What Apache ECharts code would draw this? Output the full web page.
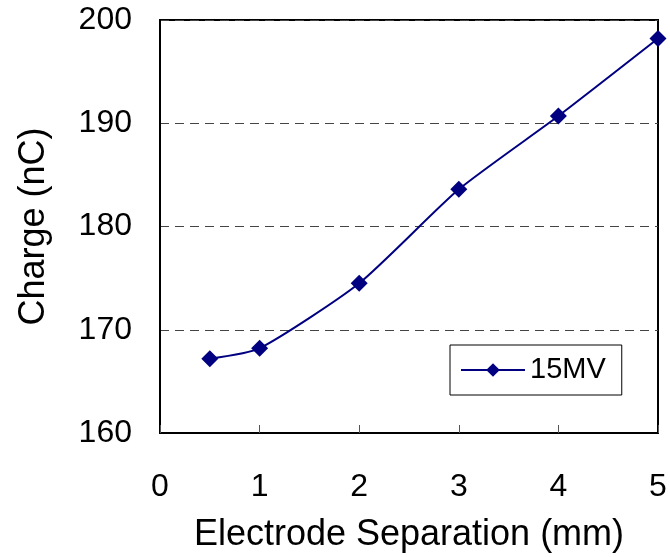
<!DOCTYPE html>
<html>
<head>
<meta charset="utf-8">
<script src="https://cdn.jsdelivr.net/npm/echarts@6/dist/echarts.min.js"></script>
<style>
  html, body { margin: 0; padding: 0; background: #fff; }
  #chart { width: 670px; height: 557px; }
</style>
</head>
<body>
<div id="chart"></div>
<script>
// Measured charge versus electrode separation at 15 MV
const separationMm = [0.5, 1, 2, 3, 4, 5];
const chargeNc = [167.2, 168.2, 174.5, 183.6, 190.7, 198.2];
const seriesName = '15MV';
const xTicks = [0, 1, 2, 3, 4, 5];
const yTicks = [160, 170, 180, 190, 200];

const font = '"Liberation Sans", Arial, Helvetica, sans-serif';
const navy = '#000080';

const chart = echarts.init(document.getElementById('chart'), null, { renderer: 'canvas' });

chart.setOption({
  animation: false,
  backgroundColor: '#fff',
  grid: {
    left: 160, right: 12, top: 20, bottom: 124,
    containLabel: false,
    outerBoundsMode: 'none',
    show: true, borderColor: '#000', borderWidth: 2, backgroundColor: '#fff'
  },
  xAxis: {
    type: 'value',
    min: xTicks[0], max: xTicks[xTicks.length - 1], interval: 1,
    name: 'Electrode Separation (mm)',
    nameLocation: 'middle', nameGap: 84,
    nameMoveOverlap: false,
    nameTextStyle: { fontFamily: font, fontSize: 36, color: '#000' },
    axisLine: { show: true, onZero: false, lineStyle: { color: '#000', width: 2 } },
    axisTick: { show: true, inside: true, length: 8, lineStyle: { color: '#555', width: 1 } },
    axisLabel: { fontFamily: font, fontSize: 32, color: '#000', margin: 38 },
    splitLine: { show: false }
  },
  yAxis: {
    type: 'value',
    min: yTicks[0], max: yTicks[yTicks.length - 1], interval: 10,
    name: 'Charge (nC)',
    nameLocation: 'middle', nameGap: 108,
    nameMoveOverlap: false,
    nameTextStyle: { fontFamily: font, fontSize: 36, color: '#000' },
    axisLine: { show: true, lineStyle: { color: '#000', width: 2 } },
    axisTick: { show: false },
    axisLabel: { fontFamily: font, fontSize: 32, color: '#000', margin: 28 },
    splitLine: {
      show: true,
      lineStyle: { color: '#444', width: 1, type: [9, 6] }
    }
  },
  legend: {
    show: true,
    data: [seriesName],
    left: 450, top: 345,
    orient: 'vertical',
    padding: [10, 16, 10, 10],
    itemWidth: 64, itemHeight: 17, itemGap: 0,
    borderColor: '#000', borderWidth: 1,
    backgroundColor: '#fff',
    textStyle: { fontFamily: font, fontSize: 29, color: '#000', lineHeight: 30 }
  },
  series: [{
    name: seriesName,
    type: 'line',
    data: separationMm.map((x, i) => [x, chargeNc[i]]),
    smooth: 0.2,
    symbol: 'diamond',
    symbolSize: 17,
    itemStyle: { color: navy },
    lineStyle: { color: navy, width: 2 }
  }]
});
</script>
</body>
</html>
